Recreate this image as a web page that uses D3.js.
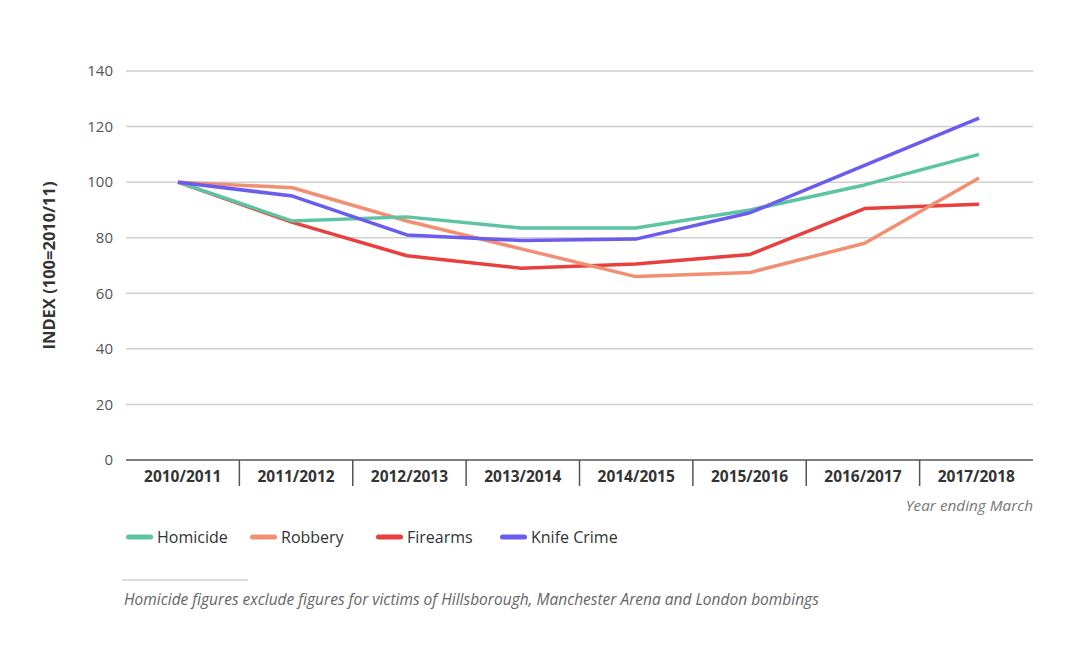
<!DOCTYPE html>
<html>
<head>
<meta charset="utf-8">
<script src="https://cdn.jsdelivr.net/npm/d3@7"></script>
<style>
  body { margin: 0; background: #fff; }
  svg { font-family: "Open Sans", Lato, sans-serif; }
</style>
</head>
<body>
<div id="chart"></div>
<script>
// Data (index, 100 = 2010/11)
var years = ["2010/2011", "2011/2012", "2012/2013", "2013/2014", "2014/2015", "2015/2016", "2016/2017", "2017/2018"];
var homicide = [100, 86, 87.5, 83.5, 83.5, 90, 99, 110];
var robbery = [100, 98, 86, 76, 66, 67.5, 78, 101.5];
var firearms = [100, 85.5, 73.5, 69, 70.5, 74, 90.5, 92];
var knifeCrime = [100, 95, 81, 79, 79.5, 89, 106, 123];
var yTicks = [0, 20, 40, 60, 80, 100, 120, 140];

var seriesNames = ["Homicide", "Robbery", "Firearms", "Knife Crime"];
var seriesColors = ["#5cc4a3", "#f28f73", "#e8403f", "#6a5cec"];
var seriesValues = [homicide, robbery, firearms, knifeCrime];
// draw order: lower ones first so the overlaps look like the original
var drawOrder = [2, 1, 0, 3];

var W = 1091, H = 656;
var m = {top: 71, right: 58, bottom: 196, left: 126}
  , w = W - m.left - m.right
  , h = H - m.top - m.bottom;

var svg = d3.select("#chart").append("svg")
  .attr("width", W)
  .attr("height", H);

var g = svg.append("g")
  .attr("transform", "translate(" + m.left + "," + m.top + ")");

// Scales
var y = d3.scaleLinear().domain([0, 140]).range([h, 0]);
var xBand = d3.scaleBand().domain(years).range([0, w]);
var xPoint = d3.scalePoint().domain(years).range([52, 853]);

// Gridlines
g.selectAll(".grid")
  .data(yTicks.filter(function(d) { return d > 0; }))
  .enter().append("line")
  .attr("x1", 0).attr("x2", w)
  .attr("y1", function(d) { return y(d); })
  .attr("y2", function(d) { return y(d); })
  .style("stroke", "#cfcfcf")
  .style("stroke-width", 1.5);

// Y tick labels
g.selectAll(".ytick")
  .data(yTicks)
  .enter().append("text")
  .attr("x", -13)
  .attr("y", function(d) { return y(d); })
  .attr("dy", "0.35em")
  .attr("text-anchor", "end")
  .style("font-size", "15px")
  .style("fill", "#555")
  .text(function(d) { return d; });

// Y axis title
svg.append("text")
  .attr("transform", "translate(55," + (m.top + y(70)) + ") rotate(-90)")
  .attr("text-anchor", "middle")
  .style("font-size", "16.5px")
  .style("font-weight", "bold")
  .style("fill", "#333")
  .text("INDEX (100=2010/11)");

// X axis line and dividers
g.append("line")
  .attr("x1", 0).attr("x2", w)
  .attr("y1", h).attr("y2", h)
  .style("stroke", "#555")
  .style("stroke-width", 1.5);

g.selectAll(".divider")
  .data(years.slice(1))
  .enter().append("line")
  .attr("x1", function(d) { return xBand(d); })
  .attr("x2", function(d) { return xBand(d); })
  .attr("y1", h).attr("y2", h + 26)
  .style("stroke", "#555")
  .style("stroke-width", 1.5);

g.selectAll(".xlabel")
  .data(years)
  .enter().append("text")
  .attr("x", function(d) { return xBand(d) + xBand.bandwidth() / 2; })
  .attr("y", h + 22)
  .attr("text-anchor", "middle")
  .style("font-size", "15.5px")
  .style("font-weight", "bold")
  .style("fill", "#333")
  .text(function(d) { return d; });

g.append("text")
  .attr("x", w)
  .attr("y", h + 51)
  .attr("text-anchor", "end")
  .style("font-size", "15.3px")
  .style("font-style", "italic")
  .style("fill", "#777")
  .text("Year ending March");

// Lines
var guide = d3.line()
  .x(function(d, i) { return xPoint(years[i]); })
  .y(function(d) { return y(d); });

drawOrder.forEach(function(k) {
  g.append("path")
    .datum(seriesValues[k])
    .attr("d", guide)
    .style("fill", "none")
    .style("stroke", seriesColors[k])
    .style("stroke-width", 3.5)
    .style("stroke-linejoin", "round");
});

// Legend
var legendX = [126, 250, 376, 500];
var legend = svg.selectAll(".legend")
  .data(seriesNames)
  .enter().append("g")
  .attr("transform", function(d, i) { return "translate(" + legendX[i] + ",537)"; });

legend.append("line")
  .attr("x1", 2.5).attr("x2", 24.5)
  .attr("y1", 0).attr("y2", 0)
  .style("stroke", function(d, i) { return seriesColors[i]; })
  .style("stroke-width", 5)
  .style("stroke-linecap", "round");

legend.append("text")
  .attr("x", 31)
  .attr("dy", "0.35em")
  .style("font-size", "16px")
  .style("fill", "#333")
  .text(function(d) { return d; });

// Footnote
svg.append("line")
  .attr("x1", 122).attr("x2", 248)
  .attr("y1", 580).attr("y2", 580)
  .style("stroke", "#bbb")
  .style("stroke-width", 1);

svg.append("text")
  .attr("x", 124)
  .attr("y", 605)
  .style("font-size", "15.5px")
  .style("font-style", "italic")
  .style("fill", "#666")
  .text("Homicide figures exclude figures for victims of Hillsborough, Manchester Arena and London bombings");
</script>
</body>
</html>
